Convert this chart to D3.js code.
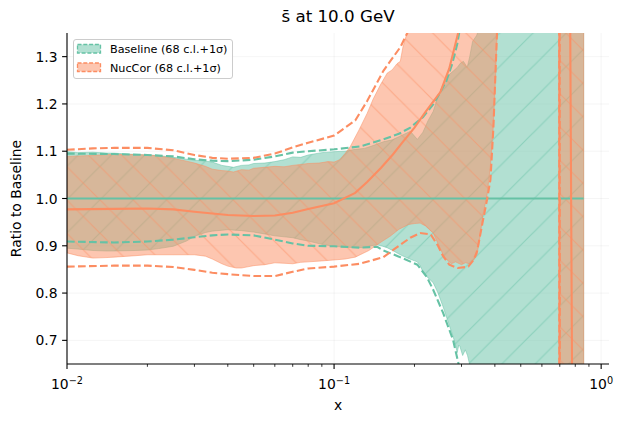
<!DOCTYPE html>
<html>
<head>
<meta charset="utf-8">
<script src="https://cdn.jsdelivr.net/npm/d3@7"></script>
<style>
  body { margin: 0; background: #fff; }
  text { font-family: "DejaVu Sans", sans-serif; fill: #000; }
</style>
</head>
<body>
<div id="chart"></div>
<script>
/* s-bar ratio plot: Baseline vs NucCor bands */

const xMajorTicks = [0.01, 0.1, 1];
const xMajorExp = ["\u22122", "\u22121", "0"];
const yTicks = [0.7, 0.8, 0.9, 1.0, 1.1, 1.2, 1.3];

// Baseline: central, 68 c.l. band, +1 sigma dashed
const baselineCentral = [[0.01, 1.0], [0.86, 1.0]];
const baselineBandUpper = [[0.01,1.099],[0.011,1.097],[0.0125,1.098],[0.014,1.096],[0.015,1.096],[0.017,1.094],[0.02,1.092],[0.022,1.091],[0.025,1.087],[0.028,1.083],[0.03,1.081],[0.033,1.079],[0.035,1.077],[0.038,1.07],[0.04,1.068],[0.042,1.066],[0.045,1.07],[0.048,1.071],[0.05,1.074],[0.055,1.075],[0.06,1.078],[0.065,1.082],[0.07,1.088],[0.075,1.087],[0.08,1.092],[0.09,1.097],[0.1,1.099],[0.11,1.1],[0.12,1.104],[0.13,1.106],[0.14,1.112],[0.153,1.12],[0.165,1.124],[0.18,1.134],[0.193,1.142],[0.2,1.132],[0.205,1.125],[0.215,1.14],[0.225,1.165],[0.235,1.184],[0.245,1.215],[0.256,1.241],[0.27,1.262],[0.289,1.277],[0.297,1.286],[0.305,1.29],[0.31,1.284],[0.315,1.277],[0.322,1.3],[0.33,1.332],[0.342,1.345],[0.354,1.37],[0.4,1.6],[0.5,2.5],[0.86,3]];
const baselineBandLower = [[0.01,0.895],[0.011,0.893],[0.0125,0.89],[0.014,0.889],[0.015,0.889],[0.018,0.89],[0.02,0.891],[0.022,0.894],[0.025,0.899],[0.028,0.91],[0.03,0.92],[0.033,0.928],[0.035,0.931],[0.04,0.934],[0.045,0.932],[0.05,0.929],[0.055,0.925],[0.06,0.921],[0.065,0.919],[0.07,0.917],[0.075,0.913],[0.08,0.91],[0.09,0.903],[0.1,0.899],[0.11,0.897],[0.128,0.896],[0.137,0.9],[0.145,0.902],[0.152,0.899],[0.158,0.896],[0.167,0.889],[0.177,0.881],[0.19,0.873],[0.205,0.866],[0.21,0.858],[0.216,0.843],[0.225,0.832],[0.235,0.822],[0.245,0.8],[0.256,0.771],[0.267,0.74],[0.279,0.708],[0.285,0.69],[0.289,0.674],[0.293,0.69],[0.296,0.687],[0.303,0.668],[0.31,0.68],[0.316,0.668],[0.323,0.645],[0.34,0.55],[0.4,0.2],[0.86,-1]];
const baselineSigmaUpper = [[0.01,1.095],[0.015,1.094],[0.02,1.092],[0.025,1.089],[0.03,1.083],[0.035,1.08],[0.04,1.079],[0.05,1.082],[0.06,1.089],[0.07,1.097],[0.08,1.1],[0.1,1.104],[0.125,1.11],[0.153,1.125],[0.175,1.137],[0.193,1.15],[0.215,1.172],[0.235,1.199],[0.25,1.225],[0.263,1.248],[0.277,1.285],[0.289,1.326],[0.296,1.36],[0.32,1.5],[0.86,3]];
const baselineSigmaLower = [[0.01,0.909],[0.015,0.907],[0.02,0.909],[0.025,0.913],[0.03,0.918],[0.035,0.922],[0.04,0.924],[0.05,0.922],[0.06,0.913],[0.07,0.905],[0.08,0.9],[0.1,0.899],[0.125,0.896],[0.145,0.898],[0.153,0.89],[0.175,0.877],[0.205,0.86],[0.2225,0.834],[0.235,0.807],[0.256,0.758],[0.279,0.701],[0.292,0.652],[0.31,0.55],[0.86,-1]];

// NucCor: central, 68 c.l. band, +1 sigma dashed
const nuccorCentral = [[0.01,0.977],[0.015,0.978],[0.02,0.979],[0.025,0.977],[0.03,0.972],[0.04,0.965],[0.05,0.963],[0.06,0.964],[0.07,0.97],[0.08,0.978],[0.1,0.99],[0.12,1.012],[0.133,1.035],[0.15,1.065],[0.166,1.093],[0.18,1.118],[0.2,1.15],[0.22,1.183],[0.25,1.225],[0.27,1.275],[0.29,1.345],[0.3,1.38],[0.35,1.6],[0.4,2],[0.5,3],[0.7,3],[0.762,1.6],[0.782,0.4],[0.86,0.3]];
const nuccorBandUpper = [[0.01,1.089],[0.011,1.09],[0.0125,1.091],[0.014,1.093],[0.015,1.093],[0.018,1.093],[0.02,1.092],[0.022,1.09],[0.025,1.085],[0.028,1.079],[0.03,1.075],[0.033,1.068],[0.035,1.062],[0.038,1.059],[0.04,1.058],[0.042,1.056],[0.045,1.061],[0.048,1.06],[0.05,1.064],[0.055,1.066],[0.06,1.068],[0.065,1.067],[0.07,1.07],[0.075,1.072],[0.08,1.074],[0.088,1.075],[0.095,1.078],[0.1,1.077],[0.105,1.082],[0.11,1.095],[0.115,1.11],[0.124,1.145],[0.133,1.18],[0.14,1.21],[0.149,1.24],[0.158,1.265],[0.165,1.272],[0.172,1.285],[0.177,1.29],[0.181,1.32],[0.1875,1.35],[0.19,1.37],[0.22,1.6],[0.3,2],[0.5,3],[0.86,3]];
const nuccorBandLower = [[0.01,0.885],[0.011,0.879],[0.0125,0.874],[0.014,0.875],[0.015,0.876],[0.018,0.879],[0.02,0.881],[0.025,0.881],[0.03,0.881],[0.033,0.878],[0.035,0.872],[0.038,0.862],[0.04,0.857],[0.043,0.853],[0.045,0.853],[0.048,0.856],[0.05,0.858],[0.055,0.86],[0.06,0.864],[0.065,0.863],[0.07,0.862],[0.075,0.865],[0.08,0.866],[0.09,0.868],[0.1,0.87],[0.11,0.872],[0.12,0.876],[0.135,0.89],[0.15,0.908],[0.162,0.92],[0.175,0.935],[0.19,0.945],[0.2,0.947],[0.21,0.948],[0.22,0.942],[0.235,0.927],[0.245,0.905],[0.256,0.881],[0.265,0.87],[0.275,0.862],[0.285,0.866],[0.3,0.86],[0.31,0.864],[0.323,0.862],[0.333,0.87],[0.343,0.881],[0.352,0.92],[0.361,0.966],[0.374,1.008],[0.385,1.07],[0.394,1.146],[0.402,1.25],[0.408,1.35],[0.42,1.6],[0.5,3],[0.69,3],[0.70,-2],[0.86,-2]];
const nuccorSigmaUpper = [[0.01,1.103],[0.0125,1.106],[0.015,1.107],[0.02,1.107],[0.025,1.102],[0.03,1.092],[0.035,1.086],[0.04,1.084],[0.05,1.086],[0.06,1.095],[0.07,1.108],[0.08,1.118],[0.1,1.133],[0.12,1.165],[0.133,1.206],[0.153,1.27],[0.177,1.32],[0.188,1.35],[0.2,1.4],[0.25,1.6],[0.3,2],[0.5,3],[0.695,3],[0.700,-2],[0.86,-2]];
const nuccorSigmaLower = [[0.01,0.856],[0.015,0.858],[0.02,0.858],[0.025,0.855],[0.03,0.849],[0.035,0.843],[0.04,0.84],[0.05,0.836],[0.06,0.836],[0.07,0.845],[0.08,0.852],[0.1,0.856],[0.125,0.862],[0.153,0.876],[0.17,0.895],[0.193,0.917],[0.21,0.927],[0.23,0.924],[0.245,0.9],[0.256,0.878],[0.27,0.86],[0.29,0.853],[0.31,0.855],[0.318,0.856],[0.333,0.87],[0.343,0.888],[0.36,0.95],[0.374,0.998],[0.385,1.04],[0.395,1.15],[0.408,1.36],[0.42,1.6],[0.5,3],[0.698,3],[0.703,-2],[0.86,-2]];

const seriesNames = ["Baseline (68 c.l.+1\u03c3)", "NucCor (68 c.l.+1\u03c3)"];
const colors = ["#66c2a5", "#fc8d62"];

const width = 629, height = 423;
const margin = { left: 67, right: 20, top: 33, bottom: 59 };

const x = d3.scaleLog().domain([0.01, 1.07]).range([margin.left, width - margin.right]);
const y = d3.scaleLinear().domain([0.65, 1.35]).range([height - margin.bottom, margin.top]);

const svg = d3.select("#chart").append("svg")
    .attr("width", width)
    .attr("height", height);

const defs = svg.append("defs");
defs.append("clipPath").attr("id", "plot")
    .append("rect")
    .attr("x", margin.left).attr("y", margin.top)
    .attr("width", width - margin.left - margin.right)
    .attr("height", height - margin.top - margin.bottom);

// hatch patterns, "/" for Baseline and "\" for NucCor
const h = 33.3;
const hatches = [
    `M0,${h} L${h},0 M${-h/4},${h/4} L${h/4},${-h/4} M${3*h/4},${5*h/4} L${5*h/4},${3*h/4}`,
    `M0,0 L${h},${h} M${-h/4},${3*h/4} L${h/4},${5*h/4} M${3*h/4},${-h/4} L${5*h/4},${h/4}`
];
hatches.forEach((p, i) => {
    defs.append("pattern")
        .attr("id", "hatch" + i)
        .attr("patternUnits", "userSpaceOnUse")
        .attr("width", h).attr("height", h)
        .append("path")
        .attr("d", p)
        .attr("stroke", colors[i])
        .attr("stroke-opacity", 0.5)
        .attr("stroke-width", 1.2)
        .attr("fill", "none");
});

// faint grid
const grid = svg.append("g");
grid.selectAll("line.gy").data(yTicks).join("line")
    .attr("x1", margin.left).attr("x2", width - margin.right)
    .attr("y1", d => y(d)).attr("y2", d => y(d))
    .attr("stroke", "#b0b0b0").attr("stroke-opacity", 0.12);
grid.selectAll("line.gx").data(xMajorTicks).join("line")
    .attr("x1", d => x(d)).attr("x2", d => x(d))
    .attr("y1", margin.top).attr("y2", height - margin.bottom)
    .attr("stroke", "#b0b0b0").attr("stroke-opacity", 0.12);

const line = d3.line().x(d => x(d[0])).y(d => y(d[1]));
const plot = svg.append("g").attr("clip-path", "url(#plot)");

const bands = [
    [baselineBandUpper, baselineBandLower],
    [nuccorBandUpper, nuccorBandLower]
];
bands.forEach(([up, lo], i) => {
    const poly = line(up.concat(lo.slice().reverse())) + "Z";
    plot.append("path").attr("d", poly)
        .attr("fill", colors[i]).attr("fill-opacity", 0.5);
    plot.append("path").attr("d", poly)
        .attr("fill", `url(#hatch${i})`);
    plot.append("path").attr("d", poly)
        .attr("fill", "none")
        .attr("stroke", colors[i]).attr("stroke-opacity", 0.5)
        .attr("stroke-width", 1);
});

const curves = [
    [baselineCentral, baselineSigmaUpper, baselineSigmaLower],
    [nuccorCentral, nuccorSigmaUpper, nuccorSigmaLower]
];
curves.forEach(([c, su, sl], i) => {
    plot.append("path").attr("d", line(c))
        .attr("fill", "none").attr("stroke", colors[i]).attr("stroke-width", 2.1);
    [su, sl].forEach(s => {
        plot.append("path").attr("d", line(s))
            .attr("fill", "none").attr("stroke", colors[i])
            .attr("stroke-width", 2.1)
            .attr("stroke-dasharray", "7.7,3.3");
    });
});

// axes
const xAxis = svg.append("g").attr("transform", `translate(0,${height - margin.bottom})`);
xAxis.append("line")
    .attr("x1", margin.left).attr("x2", width - margin.right)
    .attr("stroke", "#000").attr("stroke-width", 1.1);
const minor = [];
[0.01, 0.1].forEach(b => { for (let k = 2; k <= 9; k++) minor.push(b * k); });
xAxis.selectAll("line.minor").data(minor).join("line")
    .attr("x1", d => x(d)).attr("x2", d => x(d))
    .attr("y1", 0).attr("y2", 2.8)
    .attr("stroke", "#000").attr("stroke-width", 0.8);
xAxis.selectAll("line.major").data(xMajorTicks).join("line")
    .attr("x1", d => x(d)).attr("x2", d => x(d))
    .attr("y1", 0).attr("y2", 4.9)
    .attr("stroke", "#000").attr("stroke-width", 1.1);
const xl = xAxis.selectAll("text.tick").data(xMajorTicks).join("text")
    .attr("x", d => x(d)).attr("y", 25)
    .attr("text-anchor", "middle")
    .attr("font-size", 13.9);
xl.append("tspan").text("10");
xl.append("tspan").attr("dy", -5.5).attr("font-size", 9.7).text((d, i) => xMajorExp[i]);

const yAxis = svg.append("g").attr("transform", `translate(${margin.left},0)`);
yAxis.append("line")
    .attr("y1", margin.top).attr("y2", height - margin.bottom)
    .attr("stroke", "#000").attr("stroke-width", 1.1);
yAxis.selectAll("line.tick").data(yTicks).join("line")
    .attr("x1", -4.9).attr("x2", 0)
    .attr("y1", d => y(d)).attr("y2", d => y(d))
    .attr("stroke", "#000").attr("stroke-width", 1.1);
yAxis.selectAll("text").data(yTicks).join("text")
    .attr("x", -9.5).attr("y", d => y(d) + 5)
    .attr("text-anchor", "end")
    .attr("font-size", 13.9)
    .text(d => d.toFixed(1));

// labels
svg.append("text")
    .attr("x", (margin.left + width - margin.right) / 2).attr("y", 22)
    .attr("text-anchor", "middle").attr("font-size", 16.7)
    .text("s\u0304 at 10.0 GeV");
svg.append("text")
    .attr("x", (margin.left + width - margin.right) / 2).attr("y", 410)
    .attr("text-anchor", "middle").attr("font-size", 13.9)
    .text("x");
svg.append("text")
    .attr("transform", `translate(21,${(margin.top + height - margin.bottom) / 2}) rotate(-90)`)
    .attr("text-anchor", "middle").attr("font-size", 13.9)
    .text("Ratio to Baseline");

// legend
const legend = svg.append("g").attr("transform", "translate(73.5,39.5)");
legend.append("rect")
    .attr("width", 159).attr("height", 39).attr("rx", 2.5)
    .attr("fill", "#fff").attr("fill-opacity", 0.8)
    .attr("stroke", "#cccccc").attr("stroke-width", 1);
seriesNames.forEach((name, i) => {
    const g = legend.append("g").attr("transform", `translate(4,${5 + i * 18.5})`);
    g.append("rect")
        .attr("width", 23).attr("height", 8.5)
        .attr("fill", colors[i]).attr("fill-opacity", 0.5)
        .attr("stroke", colors[i]).attr("stroke-width", 1.3)
        .attr("stroke-dasharray", "4,1.8");
    g.append("text")
        .attr("x", 32.5).attr("y", 8.5)
        .attr("font-size", 11.2)
        .text(name);
});
</script>
</body>
</html>
